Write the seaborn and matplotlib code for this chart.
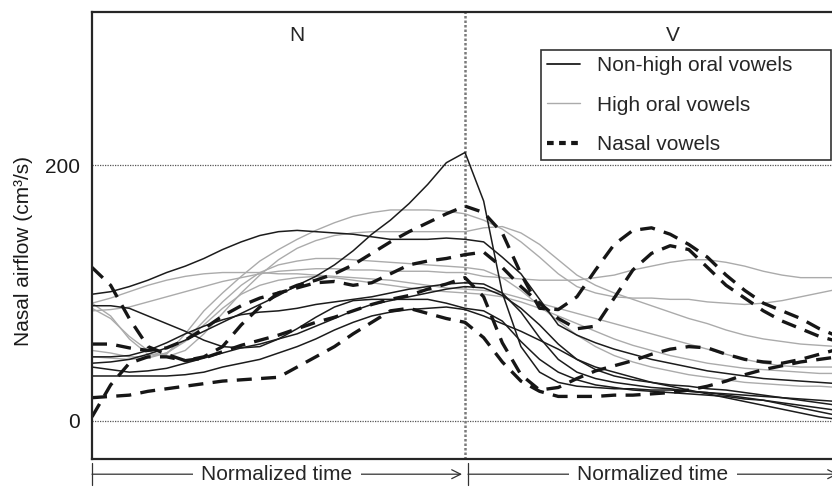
import numpy as np
import pandas as pd
import matplotlib
matplotlib.use("Agg")
import matplotlib.pyplot as plt
from matplotlib.lines import Line2D
import matplotlib.transforms as mtransforms
import seaborn as sns

# normalized time: 0-1 = nasal consonant (N), 1-2 = vowel (V)
time = [0.00, 0.05, 0.10, 0.15, 0.20, 0.25, 0.30, 0.35, 0.40, 0.45,
        0.50, 0.55, 0.60, 0.65, 0.70, 0.75, 0.80, 0.85, 0.90, 0.95,
        1.00, 1.05, 1.10, 1.15, 1.20, 1.25, 1.30, 1.35, 1.40, 1.45,
        1.50, 1.55, 1.60, 1.65, 1.70, 1.75, 1.80, 1.85, 1.90, 1.95, 2.00]

# Non-high oral vowels (solid black)
nonhigh_1 = [45, 46, 48, 52, 57, 63, 70, 77, 84, 91, 98, 106, 113, 122, 133, 146, 157, 170, 185, 202, 210,
             172, 100, 58, 38, 30, 27, 26, 25, 25, 24, 24, 23, 22, 21, 20, 19, 18, 17, 16, 15]
nonhigh_2 = [99, 101, 105, 110, 116, 121, 127, 134, 140, 145, 148, 149, 148, 147, 146, 144, 142, 142, 142, 143, 142,
             140, 128, 115, 95, 75, 67, 61, 56, 52, 48, 45, 42, 39, 37, 35, 33, 32, 31, 30, 29]
nonhigh_3 = [90, 90, 88, 82, 76, 70, 63, 58, 57, 58, 64, 72, 81, 89, 94, 95, 95, 95, 95, 92, 88,
             86, 78, 62, 48, 38, 32, 28, 26, 24, 23, 22, 21, 20, 19, 17, 16, 14, 12, 10, 8]
nonhigh_4 = [50, 50, 51, 55, 61, 68, 74, 79, 83, 85, 86, 88, 91, 93, 95, 97, 100, 103, 105, 107, 108,
             107, 100, 85, 65, 48, 38, 33, 30, 28, 26, 25, 23, 22, 20, 18, 16, 13, 10, 7, 4]
nonhigh_5 = [42, 40, 38, 39, 41, 45, 49, 53, 57, 60, 64, 68, 74, 80, 86, 91, 94, 97, 100, 103, 105,
             104, 98, 88, 75, 60, 48, 40, 35, 32, 30, 28, 27, 25, 24, 22, 20, 18, 16, 14, 12]
nonhigh_6 = [35, 35, 35, 35, 35, 36, 38, 42, 45, 48, 53, 58, 64, 71, 77, 82, 85, 87, 88, 89, 87,
             82, 76, 70, 63, 56, 48, 42, 38, 34, 30, 27, 24, 21, 18, 15, 12, 9, 6, 3, 1]

# High oral vowels (light grey)
high_1 = [86, 87, 89, 93, 97, 101, 105, 109, 112, 115, 117, 118, 119, 119, 118, 118, 117, 117, 117, 116, 116,
          113, 112, 111, 110, 110, 110, 112, 114, 118, 121, 124, 126, 126, 124, 121, 117, 114, 112, 112, 112]
high_2 = [92, 82, 64, 52, 52, 68, 86, 100, 113, 125, 134, 142, 149, 155, 160, 163, 165, 165, 165, 164, 162,
          157, 150, 140, 128, 115, 105, 100, 97, 96, 96, 95, 95, 93, 92, 91, 92, 94, 97, 100, 103]
high_3 = [88, 80, 66, 55, 50, 55, 68, 84, 100, 114, 126, 135, 141, 145, 147, 148, 148, 148, 148, 148, 148,
          151, 152, 147, 138, 126, 114, 106, 100, 95, 90, 85, 80, 76, 71, 67, 64, 62, 60, 59, 58]
high_4 = [50, 49, 48, 49, 53, 62, 75, 88, 99, 106, 110, 112, 113, 112, 110, 108, 106, 104, 102, 101, 100,
          99, 97, 93, 88, 82, 76, 70, 64, 59, 55, 51, 48, 45, 43, 41, 40, 39, 38, 37, 37]
high_5 = [55, 53, 50, 50, 53, 63, 78, 93, 106, 116, 122, 125, 127, 127, 126, 125, 124, 123, 122, 121, 120,
          118, 112, 102, 90, 78, 67, 58, 51, 46, 42, 39, 36, 34, 32, 30, 29, 28, 27, 27, 26]
high_6 = [92, 96, 101, 106, 110, 113, 115, 116, 116, 116, 115, 115, 114, 113, 112, 111, 110, 108, 106, 104, 103,
          102, 100, 96, 92, 88, 84, 80, 76, 72, 68, 64, 60, 56, 52, 48, 45, 43, 42, 42, 42]

# Nasal vowels (thick dashed)
nasal_1 = [120, 106, 80, 58, 52, 47, 50, 58, 75, 89, 100, 106, 110, 115, 122, 131, 140, 148, 155, 162, 168,
           163, 147, 115, 88, 87, 97, 118, 138, 149, 151, 146, 138, 128, 114, 102, 92, 86, 80, 72, 66]
nasal_2 = [60, 60, 57, 55, 57, 63, 72, 82, 90, 96, 100, 104, 108, 109, 106, 108, 115, 122, 125, 127, 130,
           132, 120, 105, 92, 80, 72, 74, 96, 118, 131, 137, 134, 120, 106, 96, 86, 78, 72, 66, 62]
nasal_3 = [3, 28, 45, 50, 50, 47, 49, 54, 59, 63, 67, 72, 77, 81, 86, 91, 95, 98, 103, 107, 112,
           97, 61, 36, 24, 26, 33, 39, 43, 47, 52, 56, 58, 57, 52, 48, 46, 45, 48, 52, 56]
nasal_4 = [18, 19, 20, 23, 25, 27, 29, 31, 32, 33, 34, 42, 50, 58, 68, 77, 86, 88, 84, 80, 77,
           65, 46, 31, 23, 19, 19, 19, 20, 20, 21, 22, 24, 27, 31, 36, 40, 43, 46, 48, 50]

groups = ["High oral vowels", "Non-high oral vowels", "Nasal vowels"]
curves = {
    "High oral vowels": [high_1, high_2, high_3, high_4, high_5, high_6],
    "Non-high oral vowels": [nonhigh_1, nonhigh_2, nonhigh_3, nonhigh_4, nonhigh_5, nonhigh_6],
    "Nasal vowels": [nasal_1, nasal_2, nasal_3, nasal_4],
}

rows = []
for group in groups:
    for i, values in enumerate(curves[group]):
        for t, v in zip(time, values):
            rows.append({"time": t, "flow": v, "group": group, "curve": f"{group}_{i}"})
df = pd.DataFrame(rows)

sns.set_style("white")
plt.rcParams["font.family"] = ["Liberation Sans", "DejaVu Sans"]

fig = plt.figure(figsize=(8.32, 4.9), dpi=100)
ax = fig.add_axes([92 / 832, 31 / 490, 746 / 832, 447 / 490])

palette = {"High oral vowels": "#ababab", "Non-high oral vowels": "#1c1c1c", "Nasal vowels": "#161616"}
sizes = {"High oral vowels": 1.0, "Non-high oral vowels": 1.1, "Nasal vowels": 2.4}
dashes = {"High oral vowels": "", "Non-high oral vowels": "", "Nasal vowels": (4.5, 2.8)}

sns.lineplot(data=df, x="time", y="flow", units="curve", estimator=None,
             hue="group", hue_order=groups, palette=palette,
             size="group", size_order=groups, sizes=sizes,
             style="group", style_order=groups, dashes=dashes,
             legend=False, ax=ax)

# reference lines
for y in (0, 200):
    ax.axhline(y, color="#555555", lw=0.9, ls=(0, (1, 1)), zorder=0)
ax.axvline(1.0, color="#7a7a7a", lw=1.8, ls=(0, (1, 0.8)), zorder=0)

ax.set_xlim(0, 2)
ax.set_ylim(-30, 320)
ax.set_xticks([])
ax.set_yticks([0, 200])
ax.tick_params(axis="y", length=0, pad=9, labelsize=15, colors="#1a1a1a")
ax.set_xlabel("")
ax.set_ylabel("Nasal airflow (cm\u00b3/s)", fontsize=15, color="#1a1a1a")
ax.yaxis.set_label_coords(-0.079, 0.465)

for side in ("left", "top", "bottom"):
    ax.spines[side].set_linewidth(1.6)
    ax.spines[side].set_color("#262626")
    ax.spines[side].set_zorder(5)
ax.spines["right"].set_visible(False)

ax.text(0.275, 0.948, "N", transform=ax.transAxes, ha="center", va="center", fontsize=15)
ax.text(0.779, 0.948, "V", transform=ax.transAxes, ha="center", va="center", fontsize=15)

# normalized time arrows under the axis
trans = mtransforms.blended_transform_factory(ax.transData, ax.transAxes)
for start, end in [(0.0, 0.992), (1.008, 2.0)]:
    ax.annotate("", xy=(end, -0.034), xytext=(start, -0.034), xycoords=trans, textcoords=trans,
                arrowprops=dict(arrowstyle="]->, widthA=0.5, lengthA=0", lw=0.9, color="#333333",
                                shrinkA=0, shrinkB=0, mutation_scale=16),
                annotation_clip=False, zorder=1)
    ax.text((start + end) / 2, -0.034, "Normalized time", transform=trans, ha="center", va="center",
            fontsize=15, clip_on=False, zorder=2,
            bbox=dict(boxstyle="square,pad=0.4", facecolor="white", edgecolor="none"))

handles = [
    Line2D([], [], color=palette["Non-high oral vowels"], lw=1.3),
    Line2D([], [], color=palette["High oral vowels"], lw=1.0),
    Line2D([], [], color=palette["Nasal vowels"], lw=3.0, dashes=(1.6, 1.3)),
]
labels = ["Non-high oral vowels", "High oral vowels", "Nasal vowels"]
leg = ax.legend(handles, labels, loc="upper left",
                bbox_to_anchor=(541 / 832, 1 - 157 / 490, 290 / 832, 107 / 490),
                bbox_transform=fig.transFigure, mode="expand", borderaxespad=0,
                fontsize=15, frameon=True, fancybox=False, edgecolor="#333333",
                handlelength=1.55, handletextpad=0.85, labelspacing=0.98, borderpad=0.3)
leg.get_frame().set_linewidth(1.2)
leg.get_frame().set_alpha(1)
leg.set_zorder(6)

fig.savefig("out.png", dpi=100)
